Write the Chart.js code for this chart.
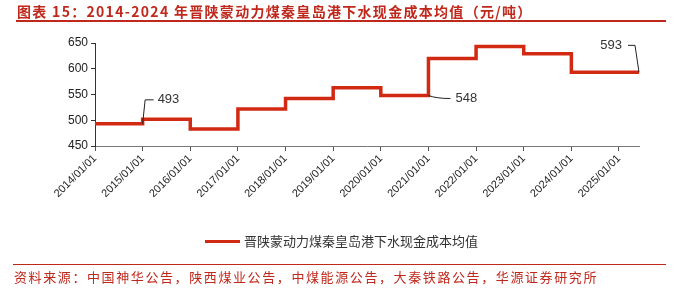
<!DOCTYPE html>
<html>
<head>
<meta charset="utf-8">
<script src="https://cdn.jsdelivr.net/npm/chart.js@4"></script>
<style>
  body { margin: 0; width: 690px; height: 288px; background: #fff; position: relative; overflow: hidden; }
  #title { position: absolute; left: 17px; top: 1px; font: bold 14px "Noto Sans CJK SC", sans-serif; letter-spacing: 1.3px; color: #c0281c; white-space: nowrap; }
  #titleLine { position: absolute; left: 16px; top: 20px; width: 650px; height: 2px; background: #c0281c; }
  #srcLine { position: absolute; left: 13px; top: 264px; width: 653px; height: 1px; background: #c0281c; }
  #src { position: absolute; left: 14px; top: 267px; font: 13px "Noto Sans CJK SC", sans-serif; letter-spacing: 1.6px; color: #c0281c; white-space: nowrap; }
  #legend { position: absolute; left: 205px; top: 231px; font: 13px "Noto Sans CJK SC", sans-serif; color: #333; white-space: nowrap; }
  #legend span { display: inline-block; width: 35px; height: 3px; background: #d22a12; vertical-align: middle; margin-right: 4px; position: relative; top: -1px; }
  canvas { position: absolute; left: 0; top: 0; }
</style>
</head>
<body>
<canvas id="chart1" width="690" height="288"></canvas>
<div id="title">图表 15：2014-2024 年晋陕蒙动力煤秦皇岛港下水现金成本均值（元/吨）</div>
<div id="titleLine"></div>
<div id="legend"><span></span>晋陕蒙动力煤秦皇岛港下水现金成本均值</div>
<div id="srcLine"></div>
<div id="src">资料来源：中国神华公告，陕西煤业公告，中煤能源公告，大秦铁路公告，华源证券研究所</div>
<script>
const seriesName = "晋陕蒙动力煤秦皇岛港下水现金成本均值";
// year start of each step (last entry = end of the data, ~2025 mid-year)
const years = [2014, 2015, 2016, 2017, 2018, 2019, 2020, 2021, 2022, 2023, 2024, 2025.42];
const costs = [493, 502, 483, 522, 542, 563, 548, 620, 643, 629, 593, 593];
const tickYears = [2014, 2015, 2016, 2017, 2018, 2019, 2020, 2021, 2022, 2023, 2024, 2025];
const tickLabels = ["2014/01/01", "2015/01/01", "2016/01/01", "2017/01/01", "2018/01/01", "2019/01/01",
  "2020/01/01", "2021/01/01", "2022/01/01", "2023/01/01", "2024/01/01", "2025/01/01"];
// callouts: index of point in the series and the text shown
const callouts = [
  { idx: 1, text: "493", valueIdx: 0 },
  { idx: 7, text: "548", valueIdx: 6 },
  { idx: 11, text: "593", valueIdx: 10 },
];

const calloutPlugin = {
  id: "callouts",
  afterDatasetsDraw(chart) {
    const ctx = chart.ctx;
    const x = chart.scales.x, y = chart.scales.y;
    ctx.save();
    ctx.strokeStyle = "#222";
    ctx.lineWidth = 1;
    ctx.fillStyle = "#333";
    ctx.font = "13px 'Liberation Sans', Arial, sans-serif";
    ctx.textBaseline = "middle";
    callouts.forEach((c) => {
      const px = x.getPixelForValue(years[c.idx]);
      const py = y.getPixelForValue(costs[c.valueIdx]);
      ctx.beginPath();
      if (c.idx === 1) {
        ctx.moveTo(px, py);
        ctx.lineTo(px + 2.5, py - 24);
        ctx.lineTo(px + 11, py - 24);
        ctx.stroke();
        ctx.textAlign = "left";
        ctx.fillText(c.text, px + 15, py - 24);
      } else if (c.idx === 7) {
        ctx.moveTo(px, py);
        ctx.quadraticCurveTo(px + 8, py + 3, px + 22, py + 3);
        ctx.stroke();
        ctx.textAlign = "left";
        ctx.fillText(c.text, px + 27, py + 3);
      } else {
        ctx.moveTo(px, py);
        ctx.lineTo(px - 4, py - 27);
        ctx.lineTo(px - 11, py - 27);
        ctx.stroke();
        ctx.textAlign = "right";
        ctx.fillText(c.text, px - 17, py - 27);
      }
    });
    ctx.restore();
  },
};

var ctx = document.getElementById("chart1").getContext("2d");
var myChart = new Chart(ctx, {
  type: "line",
  data: {
    datasets: [
      {
        label: seriesName,
        data: years.map((yr, i) => ({ x: yr, y: costs[i] })),
        stepped: true,
        borderColor: "#d22a12",
        borderWidth: 3.5,
        pointRadius: 0,
        fill: false,
      },
    ],
  },
  options: {
    responsive: false,
    animation: false,
    layout: { padding: { left: 0, top: 43, right: 51, bottom: 0 } },
    plugins: {
      legend: { display: false },
      tooltip: { enabled: false },
    },
    scales: {
      x: {
        type: "linear",
        min: 2014,
        max: 2025.42,
        afterBuildTicks: (scale) => {
          scale.ticks = tickYears.map((v) => ({ value: v }));
        },
        afterFit: (scale) => {
          scale.height = 142;
        },
        border: { color: "#777", width: 1 },
        grid: { drawOnChartArea: false, drawTicks: true, tickLength: 5, color: "#555" },
        ticks: {
          color: "#222",
          font: { family: "'Liberation Sans', Arial", size: 11 },
          maxRotation: 45,
          minRotation: 45,
          padding: 1,
          callback: (v, i) => tickLabels[i],
        },
      },
      y: {
        min: 450,
        max: 650,
        afterFit: (scale) => {
          scale.width = 95;
        },
        border: { color: "#333", width: 1 },
        grid: { drawOnChartArea: false, drawTicks: true, tickLength: 4, color: "#333" },
        ticks: {
          stepSize: 50,
          color: "#222",
          font: { family: "'Liberation Sans', Arial", size: 12 },
          padding: 3,
        },
      },
    },
  },
  plugins: [calloutPlugin],
});
</script>
</body>
</html>
